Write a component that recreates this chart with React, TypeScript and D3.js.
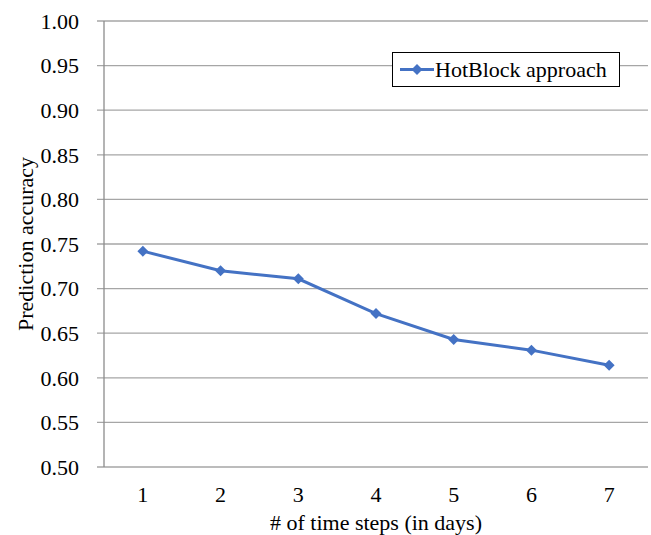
import * as d3 from "d3";

// ── Data ──────────────────────────────────────────────────────
const STEPS = ["1", "2", "3", "4", "5", "6", "7"];
const ACCURACY = [0.742, 0.72, 0.711, 0.672, 0.643, 0.631, 0.614];
const Y_TICKS = [0.5, 0.55, 0.6, 0.65, 0.7, 0.75, 0.8, 0.85, 0.9, 0.95, 1.0];
const SERIES = "HotBlock approach";

// ── Geometry ──────────────────────────────────────────────────
const W = 651;
const H = 535;
const PAD = { top: 21, right: 3, bottom: 68, left: 104 };
const BLUE = "#4472c4";
const GRID = "#a6a6a6";
const FONT = "'Liberation Serif', 'Times New Roman', serif";
const FS = 22;

// square diamond marker (Excel style)
const DIAMOND = "M0,-5.5L5.5,0L0,5.5L-5.5,0Z";

export default function App() {
  const x = d3.scaleBand().domain(STEPS).range([PAD.left, W - PAD.right]);
  const y = d3.scaleLinear().domain([0.5, 1.0]).range([H - PAD.bottom, PAD.top]);
  const cx = (i: number) => (x(STEPS[i]) as number) + x.bandwidth() / 2;

  const line = d3
    .line<number>()
    .x((_, i) => cx(i))
    .y((d) => y(d));

  const baseY = H - PAD.bottom;

  return (
    <svg
      width={W}
      height={H}
      style={{ position: "absolute", left: 0, top: 0, background: "#fff" }}
      fontFamily={FONT}
    >
      {/* gridlines with left tick stubs */}
      {Y_TICKS.map((t) => (
        <line key={`g-${t}`} x1={PAD.left - 7} x2={W - PAD.right} y1={y(t)} y2={y(t)}
          stroke={GRID} strokeWidth={1.3} />
      ))}
      <line x1={PAD.left} x2={PAD.left} y1={PAD.top} y2={baseY} stroke="#8c8c8c" strokeWidth={1.3} />

      {/* y tick labels */}
      {Y_TICKS.map((t) => (
        <text key={`yt-${t}`} x={79} y={y(t)} dy="0.35em" textAnchor="end" fontSize={FS} fill="#000">
          {t.toFixed(2)}
        </text>
      ))}

      {/* x tick labels */}
      {STEPS.map((s, i) => (
        <text key={`xt-${s}`} x={cx(i)} y={502} textAnchor="middle" fontSize={FS} fill="#000">
          {s}
        </text>
      ))}

      {/* axis titles */}
      <text x={376} y={530} textAnchor="middle" fontSize={FS} fill="#000">
        # of time steps (in days)
      </text>
      <text transform={`translate(25, ${(PAD.top + baseY) / 2}) rotate(-90)`} textAnchor="middle"
        fontSize={FS} fill="#000" dy="0.35em">
        Prediction accuracy
      </text>

      {/* series */}
      <path d={line(ACCURACY) as string} fill="none" stroke={BLUE} strokeWidth={3} />
      {ACCURACY.map((v, i) => (
        <path key={`m-${i}`} d={DIAMOND} transform={`translate(${cx(i)}, ${y(v)})`} fill={BLUE} />
      ))}

      {/* legend */}
      <g transform="translate(392, 52)">
        <rect x={0.5} y={0.5} width={227} height={34} fill="#fff" stroke="#000" strokeWidth={1} />
        <line x1={8} x2={42} y1={17.5} y2={17.5} stroke={BLUE} strokeWidth={3} />
        <path d={DIAMOND} transform="translate(25, 17.5)" fill={BLUE} />
        <text x={43} y={17.5} dy="0.35em" fontSize={FS} fill="#000">{SERIES}</text>
      </g>
    </svg>
  );
}
